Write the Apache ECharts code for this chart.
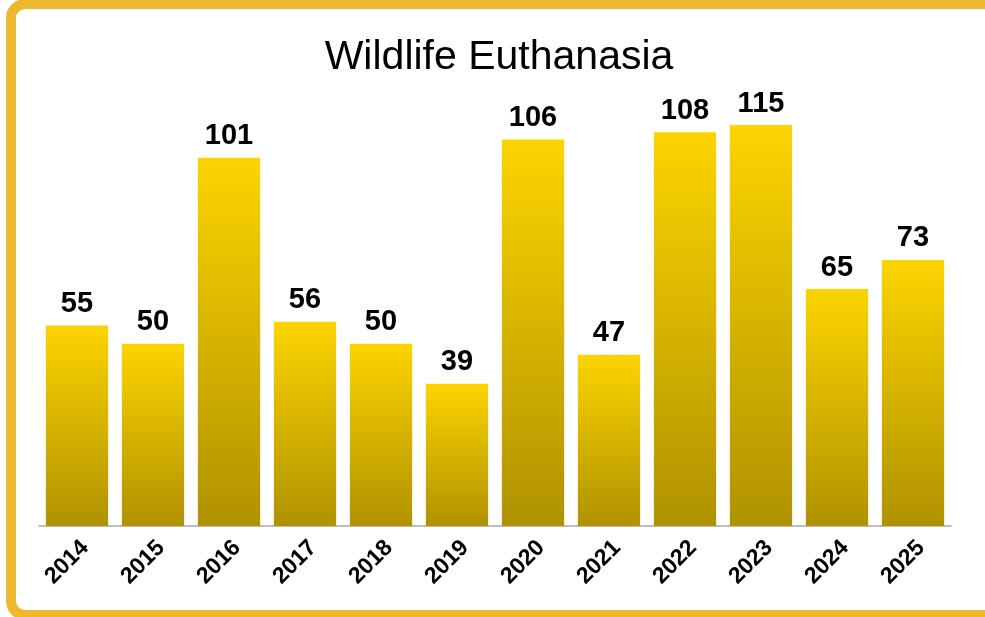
<!DOCTYPE html>
<html><head><meta charset="utf-8">
<script src="https://cdn.jsdelivr.net/npm/echarts@6/dist/echarts.min.js"></script>
<style>html,body{margin:0;padding:0;background:#fff}#c{width:985px;height:617px}</style>
</head><body><div id="c"></div>
<script>
const years = ['2014','2015','2016','2017','2018','2019','2020','2021','2022','2023','2024','2025'];
const counts = [55,50,101,56,50,39,106,47,108,115,65,73];
const chart = echarts.init(document.getElementById('c'));
chart.setOption({
  animation:false,
  backgroundColor:'#fff',
  title:{text:'Wildlife Euthanasia',left:494,textAlign:'center',top:32,
    textStyle:{fontFamily:'Liberation Sans, Arial',fontSize:41,fontWeight:'normal',color:'#000'}},
  graphic:[{type:'rect',shape:{x:11,y:4,width:1000,height:611,r:14},
    style:{fill:'none',stroke:'#EDB82E',lineWidth:10},z:100}],
  grid:{left:39,right:34,top:125,bottom:91},
  xAxis:{type:'category',data:years,
    axisLine:{lineStyle:{color:'#BFBFBF',width:2}},axisTick:{show:false},
    axisLabel:{rotate:45,margin:10,verticalAlign:'top',fontFamily:'Liberation Sans, Arial',fontSize:23,fontWeight:'bold',color:'#000'}},
  yAxis:{type:'value',min:0,max:110,show:false,splitLine:{show:false}},
  series:[{type:'bar',data:counts,barCategoryGap:'18%',clip:true,
    itemStyle:{color:new echarts.graphic.LinearGradient(0,0,0,1,[{offset:0,color:'#FCD400'},{offset:1,color:'#B09200'}])},
    label:{show:true,position:'top',distance:7,fontFamily:'Liberation Sans, Arial',fontSize:29,fontWeight:'bold',color:'#000'}}]
});
</script></body></html>
